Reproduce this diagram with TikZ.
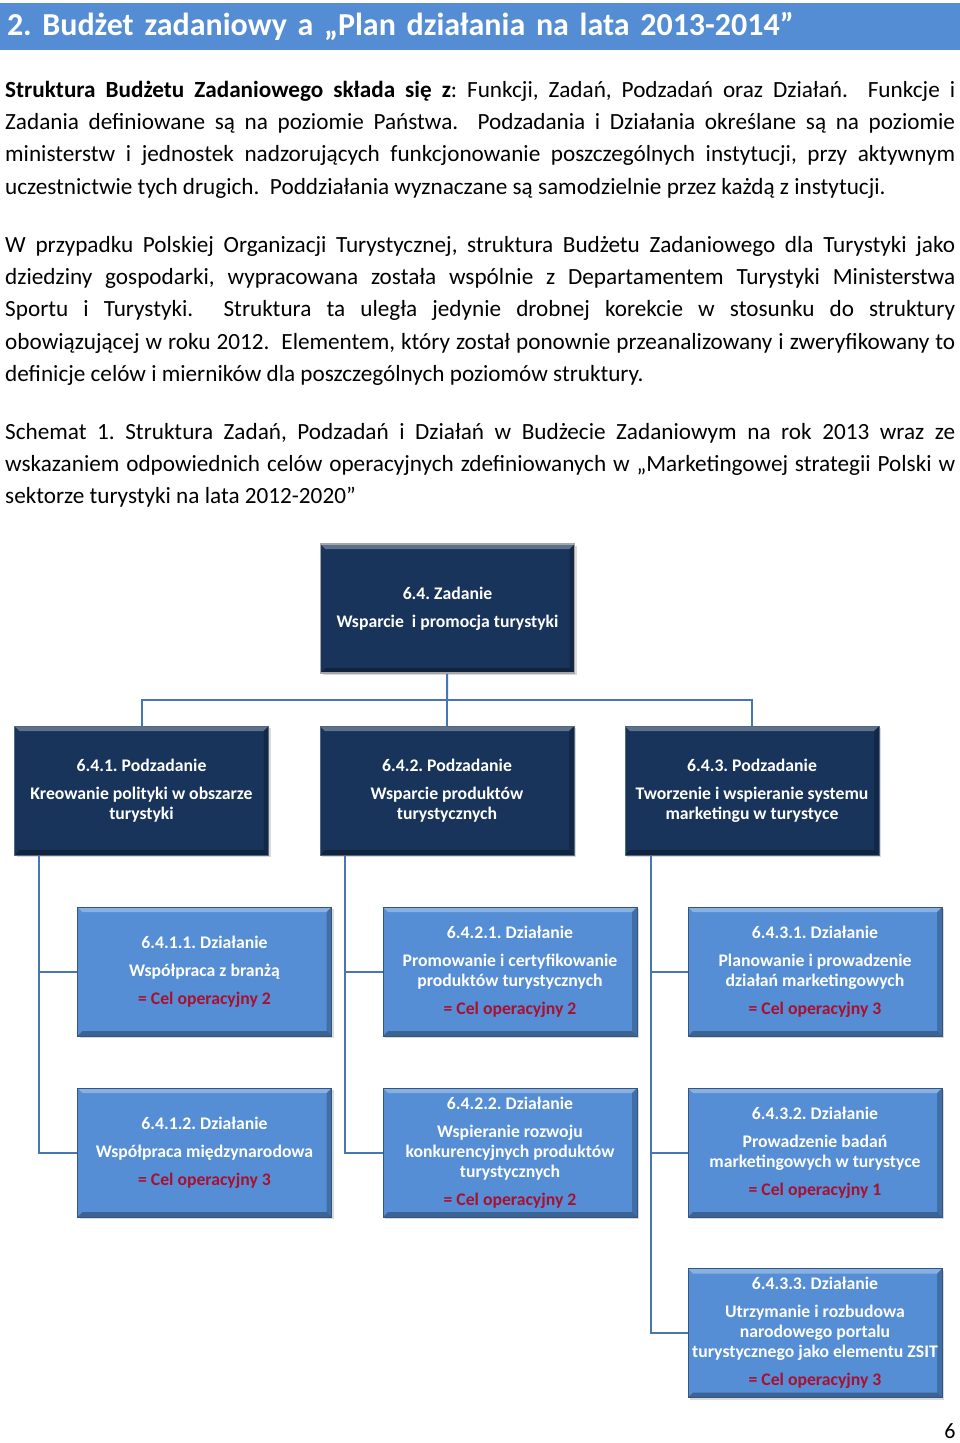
\documentclass[tikz,border=0pt]{standalone}
\usepackage{fontspec}
\setmainfont{Carlito}
\usetikzlibrary{shadows}
\frenchspacing
\definecolor{headblue}{RGB}{84,141,212}
\definecolor{navy}{RGB}{24,52,90}
\definecolor{actblue}{RGB}{85,142,213}
\definecolor{linkblue}{RGB}{72,118,178}
\definecolor{celred}{RGB}{168,16,48}
\newcommand\jline[1]{\hbox to 950pt{#1}}
\newcommand\cel[1]{\textcolor{celred}{= Cel operacyjny #1}}
\begin{document}
\begin{tikzpicture}[x=1pt, y=-1pt,
  bevel/.style={path picture={
    \fill[white, opacity=0.3] (path picture bounding box.north west) -- (path picture bounding box.north east)
      -- ([xshift=-5pt,yshift=-5pt]path picture bounding box.north east) -- ([xshift=5pt,yshift=-5pt]path picture bounding box.north west) -- cycle;
    \fill[black, opacity=0.3] (path picture bounding box.south west) -- (path picture bounding box.south east)
      -- ([xshift=-5pt,yshift=5pt]path picture bounding box.south east) -- ([xshift=5pt,yshift=5pt]path picture bounding box.south west) -- cycle;
    \fill[black, opacity=0.22] (path picture bounding box.north east) -- (path picture bounding box.south east)
      -- ([xshift=-5pt,yshift=5pt]path picture bounding box.south east) -- ([xshift=-5pt,yshift=-5pt]path picture bounding box.north east) -- cycle;}},
  box/.style={minimum width=254pt, minimum height=129pt, inner sep=2pt, align=center, bevel,
    text=white, font=\fontsize{17.7}{20}\selectfont\bfseries,
    drop shadow={shadow xshift=2pt, shadow yshift=-2pt, opacity=0.3}},
  zad/.style={box, fill=navy, draw=gray!70, line width=1.5pt},
  pod/.style={box, fill=navy, draw=navy!75!white, line width=1pt},
  dzl/.style={box, fill=actblue, draw=actblue!60!black, line width=0.8pt},
  conn/.style={draw=linkblue, line width=2pt},
  body/.style={font=\fontsize{23.2}{32.4}\selectfont, inner sep=0pt, anchor=base west}]
  \useasboundingbox (0,0) rectangle (960,1443);
  % heading
  \node[fill=headblue, minimum width=960pt, minimum height=47pt, text width=946pt, inner xsep=7pt,
    align=left, text=white, font=\fontsize{32}{36}\selectfont\bfseries] (head) at (480,26.5)
    {2. Budżet zadaniowy a „Plan działania na lata 2013-2014”};
  % text
  \node[body] (par1) at (5,97) {\vtop{%
    \jline{\textbf{Struktura Budżetu Zadaniowego składa się z}: Funkcji, Zadań, Podzadań oraz Działań.\ \ Funkcje i}
    \jline{Zadania definiowane są na poziomie Państwa.\ \ Podzadania i Działania określane są na poziomie}
    \jline{ministerstw i jednostek nadzorujących funkcjonowanie poszczególnych instytucji, przy aktywnym}
    \hbox{uczestnictwie tych drugich.\ \ Poddziałania wyznaczane są samodzielnie przez każdą z instytucji.}}};
  \node[body] (par2) at (5,252) {\vtop{%
    \jline{W przypadku Polskiej Organizacji Turystycznej, struktura Budżetu Zadaniowego dla Turystyki jako}
    \jline{dziedziny gospodarki, wypracowana została wspólnie z Departamentem Turystyki Ministerstwa}
    \jline{Sportu i Turystyki.\ \ Struktura ta uległa jedynie drobnej korekcie w stosunku do struktury}
    \jline{obowiązującej w roku 2012.\ \ Elementem, który został ponownie przeanalizowany i zweryfikowany to}
    \hbox{definicje celów i mierników dla poszczególnych poziomów struktury.}}};
  \node[body] (par3) at (5,439) {\vtop{%
    \jline{Schemat 1. Struktura Zadań, Podzadań i Działań w Budżecie Zadaniowym na rok 2013 wraz ze}
    \jline{wskazaniem odpowiednich celów operacyjnych zdefiniowanych w „Marketingowej strategii Polski w}
    \hbox{sektorze turystyki na lata 2012-2020”}}};
  % Zadanie
  \node[zad] (zad) at (447.5,608.5) {6.4. Zadanie\\[8pt] Wsparcie\ \ i promocja turystyki};
  % Podzadania
  \node[pod] (pod1) at (141.5,790.5) {6.4.1. Podzadanie\\[8pt] Kreowanie polityki w obszarze\\ turystyki};
  \node[pod] (pod2) at (447,790.5) {6.4.2. Podzadanie\\[8pt] Wsparcie produktów\\ turystycznych};
  \node[pod] (pod3) at (752,790.5) {6.4.3. Podzadanie\\[8pt] Tworzenie i wspieranie systemu\\ marketingu w turystyce};
  % Dzialania
  \node[dzl] (dz11) at (204.5,971.5) {6.4.1.1. Działanie\\[8pt] Współpraca z branżą\\[8pt] \cel{2}};
  \node[dzl] (dz12) at (204.5,1152.5) {6.4.1.2. Działanie\\[8pt] Współpraca międzynarodowa\\[8pt] \cel{3}};
  \node[dzl] (dz21) at (510,971.5) {6.4.2.1. Działanie\\[8pt] Promowanie i certyfikowanie\\ produktów turystycznych\\[8pt] \cel{2}};
  \node[dzl] (dz22) at (510,1152.5) {6.4.2.2. Działanie\\[8pt] Wspieranie rozwoju\\ konkurencyjnych produktów\\ turystycznych\\[8pt] \cel{2}};
  \node[dzl] (dz31) at (815,971.5) {6.4.3.1. Działanie\\[8pt] Planowanie i prowadzenie\\ działań marketingowych\\[8pt] \cel{3}};
  \node[dzl] (dz32) at (815,1152.5) {6.4.3.2. Działanie\\[8pt] Prowadzenie badań\\ marketingowych w turystyce\\[8pt] \cel{1}};
  \node[dzl] (dz33) at (815,1333) {6.4.3.3. Działanie\\[8pt] Utrzymanie i rozbudowa\\ narodowego portalu\\ turystycznego jako elementu ZSIT\\[8pt] \cel{3}};
  % connectors
  \coordinate (bus) at (447,700);
  \draw[conn] (zad) -- (bus);
  \draw[conn] (pod1.north) |- (bus) -| (pod3.north);
  \draw[conn] (bus) -- (pod2.north);
  \draw[conn] ([xshift=25pt]pod1.south west) |- (dz11);
  \draw[conn] ([xshift=25pt]pod1.south west) |- (dz12);
  \draw[conn] ([xshift=25pt]pod2.south west) |- (dz21);
  \draw[conn] ([xshift=25pt]pod2.south west) |- (dz22);
  \draw[conn] ([xshift=26pt]pod3.south west) |- (dz31);
  \draw[conn] ([xshift=26pt]pod3.south west) |- (dz32);
  \draw[conn] ([xshift=26pt]pod3.south west) |- (dz33);
  \node[font=\fontsize{22}{26}\selectfont] (pnum) at (950,1431) {6};
\end{tikzpicture}
\end{document}
